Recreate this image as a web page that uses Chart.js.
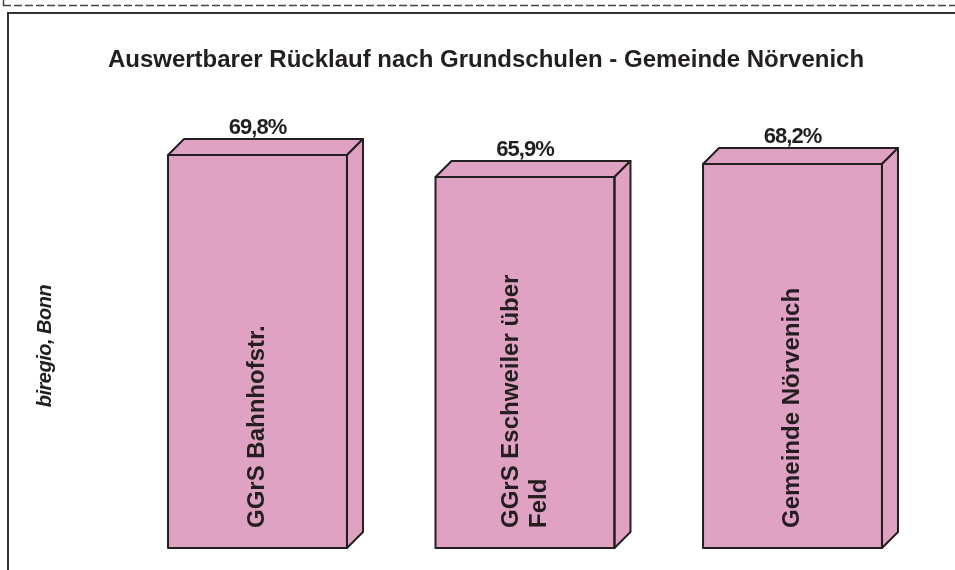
<!DOCTYPE html>
<html>
<head>
<meta charset="utf-8">
<script src="https://cdn.jsdelivr.net/npm/chart.js@4/dist/chart.umd.min.js"></script>
<style>
  html, body { margin: 0; padding: 0; background: #fff; }
  #wrap { width: 955px; height: 570px; position: relative; }
</style>
</head>
<body>
<div id="wrap"><canvas id="c" width="955" height="570"></canvas></div>
<script>
const titleText = 'Auswertbarer Rücklauf nach Grundschulen - Gemeinde Nörvenich';
const categories = ['GGrS Bahnhofstr.', ['GGrS Eschweiler über', 'Feld'], 'Gemeinde Nörvenich'];
const values = [69.8, 65.9, 68.2];
const sourceNote = 'biregio, Bonn';
const yMin = 0;
const yMax = 80;

const FONT = '"Liberation Sans", Arial, sans-serif';
const PINK = '#E0A2C2';
const EDGE = '#231f20';
const DX = 16, DY = 16;

function fmt(v) { return v.toFixed(1).replace('.', ',') + '%'; }

const decor = {
  id: 'decor',
  beforeDraw(chart) {
    const ctx = chart.ctx;
    ctx.save();
    ctx.fillStyle = '#fff';
    ctx.fillRect(0, 0, chart.width, chart.height);
    // top dashed strip (document remnant)
    ctx.strokeStyle = '#444';
    ctx.lineWidth = 1.5;
    ctx.setLineDash([8, 3]);
    ctx.beginPath();
    ctx.moveTo(3, 5.5); ctx.lineTo(chart.width, 5.5);
    ctx.stroke();
    ctx.setLineDash([]);
    ctx.beginPath();
    ctx.moveTo(3.5, 0); ctx.lineTo(3.5, 6);
    ctx.stroke();
    // frame
    ctx.strokeStyle = '#333';
    ctx.lineWidth = 2;
    ctx.beginPath();
    ctx.moveTo(8, chart.height + 5);
    ctx.lineTo(8, 13);
    ctx.lineTo(chart.width + 5, 13);
    ctx.stroke();
    // title
    ctx.fillStyle = '#231f20';
    ctx.font = 'bold 24px ' + FONT;
    ctx.textAlign = 'center';
    ctx.textBaseline = 'alphabetic';
    ctx.fillText(titleText, 486, 67);
    // source note
    ctx.save();
    ctx.translate(51, 346);
    ctx.rotate(-Math.PI / 2);
    ctx.font = 'italic bold 20px ' + FONT;
    ctx.letterSpacing = '-0.5px';
    ctx.textAlign = 'center';
    ctx.fillText(sourceNote, 0, 0);
    ctx.restore();
    ctx.restore();
  },
  afterDatasetsDraw(chart) {
    const ctx = chart.ctx;
    const meta = chart.getDatasetMeta(0);
    ctx.save();
    meta.data.forEach((bar, i) => {
      const w = bar.width;
      const l = bar.x - w / 2, r = bar.x + w / 2;
      const t = bar.y, b = bar.base;
      ctx.fillStyle = PINK;
      ctx.strokeStyle = EDGE;
      ctx.lineWidth = 2;
      ctx.lineJoin = 'round';
      // top face
      ctx.beginPath();
      ctx.moveTo(l, t);
      ctx.lineTo(l + DX, t - DY);
      ctx.lineTo(r + DX, t - DY);
      ctx.lineTo(r, t);
      ctx.closePath();
      ctx.fill(); ctx.stroke();
      // side face
      ctx.beginPath();
      ctx.moveTo(r, t);
      ctx.lineTo(r + DX, t - DY);
      ctx.lineTo(r + DX, b - DY);
      ctx.lineTo(r, b);
      ctx.closePath();
      ctx.fill(); ctx.stroke();
      // front outline
      ctx.strokeRect(l, t, w, b - t);

      // value label
      ctx.fillStyle = '#231f20';
      ctx.font = 'bold 22px ' + FONT;
      ctx.letterSpacing = '-1px';
      ctx.textAlign = 'center';
      ctx.textBaseline = 'alphabetic';
      ctx.fillText(fmt(values[i]), bar.x, t - DY - 5);
      ctx.letterSpacing = '0px';

      // category label inside bar, rotated
      const lines = Array.isArray(categories[i]) ? categories[i] : [categories[i]];
      ctx.save();
      ctx.translate(bar.x, b - 20);
      ctx.rotate(-Math.PI / 2);
      ctx.font = 'bold 24px ' + FONT;
      ctx.textAlign = 'left';
      const n = lines.length;
      lines.forEach((ln, k) => {
        ctx.fillText(ln, 0, 6.5 + (k - (n - 1) / 2) * 28);
      });
      ctx.restore();
    });
    ctx.restore();
  }
};

new Chart(document.getElementById('c'), {
  type: 'bar',
  data: {
    labels: categories,
    datasets: [{
      data: values,
      backgroundColor: PINK,
      borderColor: EDGE,
      borderWidth: 0,
      categoryPercentage: 1,
      barPercentage: 0.669
    }]
  },
  options: {
    responsive: false,
    animation: false,
    layout: { padding: { left: 123.75, right: 28.75, top: 97.6, bottom: 22 } },
    plugins: {
      legend: { display: false },
      title: { display: false },
      tooltip: { enabled: false }
    },
    scales: {
      x: { display: false },
      y: { display: false, min: yMin, max: yMax }
    }
  },
  plugins: [decor]
});
</script>
</body>
</html>
